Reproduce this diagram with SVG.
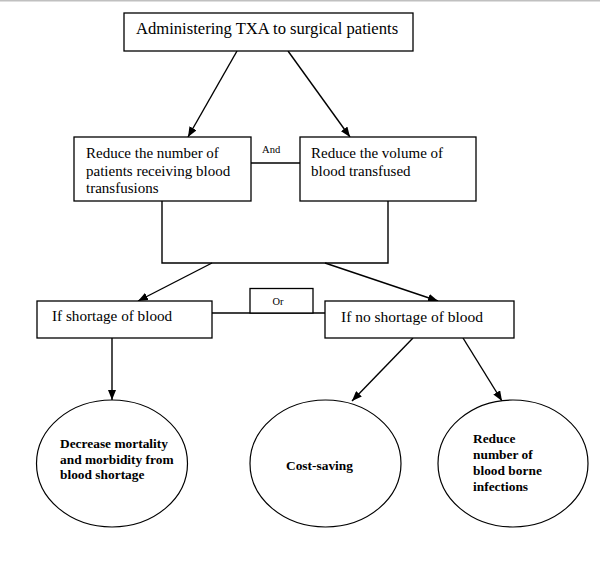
<svg xmlns="http://www.w3.org/2000/svg" width="600" height="563" viewBox="0 0 600 563">
<style>
.box{fill:#fff;stroke:#000;stroke-width:1.3}
.ell{fill:#fff;stroke:#000;stroke-width:1.2}
.t{font-family:"Liberation Serif","Times New Roman",serif;fill:#000}
.b{font-weight:bold;font-size:13.4px}
.c{fill:none;stroke:#000;stroke-width:1.4}
</style>
<defs>
<marker id="ah" viewBox="0 0 10 8" refX="10" refY="4" markerWidth="10" markerHeight="8" markerUnits="userSpaceOnUse" orient="auto">
<path d="M0,0 L10,4 L0,8 Z" fill="#000"/>
</marker>
</defs>
<rect x="0" y="0" width="600" height="1.5" fill="#c0c0c0"/>
<g id="connectors">
<line class="c" x1="237" y1="51" x2="188" y2="137" marker-end="url(#ah)"/>
<line class="c" x1="288" y1="51" x2="350" y2="137" marker-end="url(#ah)"/>
<line class="c" x1="251" y1="163" x2="300" y2="163"/>
<polyline class="c" points="162,201 162,263 388,263 388,201"/>
<line class="c" x1="212" y1="263" x2="138" y2="301" marker-end="url(#ah)"/>
<line class="c" x1="325" y1="263" x2="438" y2="301" marker-end="url(#ah)"/>
<line class="c" x1="212" y1="313" x2="325" y2="313"/>
<line class="c" x1="112" y1="338" x2="112" y2="400" marker-end="url(#ah)"/>
<line class="c" x1="413" y1="338" x2="352" y2="401" marker-end="url(#ah)"/>
<line class="c" x1="463" y1="338" x2="502" y2="401" marker-end="url(#ah)"/>
</g>
<g id="n-top">
<rect class="box" x="124" y="13" width="289" height="38"/>
<text class="t" x="136" y="34" font-size="16.6">Administering TXA to surgical patients</text>
</g>
<g id="n-reduce-number">
<rect class="box" x="74" y="137" width="177" height="64"/>
<text class="t" font-size="15">
<tspan x="86" y="158">Reduce the number of</tspan>
<tspan x="86" y="175.5">patients receiving blood</tspan>
<tspan x="86" y="192.8">transfusions</tspan>
</text>
</g>
<g id="n-and">
<text class="t" x="262" y="153" font-size="10.6">And</text>
</g>
<g id="n-reduce-volume">
<rect class="box" x="300" y="137" width="176" height="64"/>
<text class="t" font-size="15">
<tspan x="311" y="158">Reduce the volume of</tspan>
<tspan x="311" y="175.5">blood transfused</tspan>
</text>
</g>
<g id="n-shortage">
<rect class="box" x="37" y="301" width="175" height="37"/>
<text class="t" x="52" y="321" font-size="15.2">If shortage of blood</text>
</g>
<g id="n-or">
<rect class="box" x="250" y="288.5" width="63" height="24.5"/>
<text class="t" x="278" y="304.5" font-size="10.4" text-anchor="middle">Or</text>
</g>
<g id="n-no-shortage">
<rect class="box" x="325" y="301" width="189" height="37"/>
<text class="t" x="341" y="321.5" font-size="15.5">If no shortage of blood</text>
</g>
<g id="n-mortality">
<ellipse class="ell" cx="112" cy="463.5" rx="75.5" ry="63.5"/>
<text class="t b">
<tspan x="60" y="448.3">Decrease mortality</tspan>
<tspan x="60" y="463.6">and morbidity from</tspan>
<tspan x="60" y="478.8">blood shortage</tspan>
</text>
</g>
<g id="n-cost">
<ellipse class="ell" cx="325.5" cy="463.5" rx="75.5" ry="63.5"/>
<text class="t b" x="286" y="470">Cost-saving</text>
</g>
<g id="n-infections">
<ellipse class="ell" cx="513" cy="463.5" rx="75" ry="63.5"/>
<text class="t b">
<tspan x="473" y="443.3">Reduce</tspan>
<tspan x="473" y="459.2">number of</tspan>
<tspan x="473" y="475.1">blood borne</tspan>
<tspan x="473" y="491">infections</tspan>
</text>
</g>
</svg>
